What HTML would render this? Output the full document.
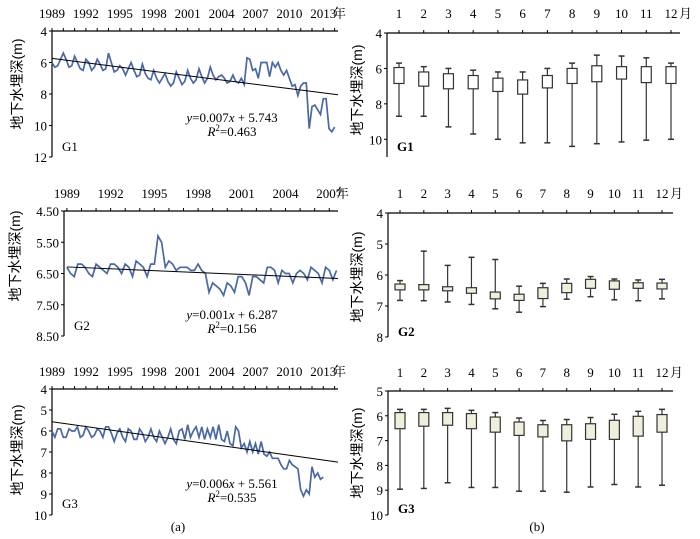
<!DOCTYPE html>
<html><head><meta charset="utf-8"><style>
body{margin:0;background:#fff}
svg{display:block;font-family:"Liberation Serif","Noto Serif CJK SC",serif}
</style></head><body>
<svg id="fig" width="700" height="539" viewBox="0 0 700 539" xmlns="http://www.w3.org/2000/svg"></svg>
<script>
// ---------- data ----------
const g1Start = 1989;
const g1Depth = [6.0,6.3,6.2,5.8, 5.4,5.8,6.3,6.2, 5.6,6.0,6.4,6.5, 5.8,6.0,6.5,6.3, 5.8,6.1,6.5,6.4,
  5.4,6.0,6.6,6.5, 6.2,6.4,6.8,6.4, 6.0,6.5,6.9,6.8, 6.1,6.7,7.0,7.1, 6.5,7.0,7.3,7.0,
  6.7,7.2,7.5,7.3, 6.6,7.0,7.4,7.2, 6.5,7.0,7.3,7.1, 6.4,6.9,7.3,7.0, 6.3,6.8,7.1,6.9,
  6.8,7.0,7.3,7.2, 6.8,7.2,7.3,7.0, 7.4,5.7,5.8,6.5, 6.4,7.0,6.0,6.0, 6.0,6.9,6.0,6.3,
  6.0,6.5,6.8,6.5, 7.0,7.5,7.4,8.1, 7.5,7.3,7.3,10.2, 8.8,8.7,9.0,9.3, 8.3,8.3,10.2,10.4, 10.1];
const g1Trend = [5.74, 8.05];
const g2Start = 1989;
const g2Depth = [6.3,6.5,6.6,6.2, 6.2,6.3,6.5,6.6, 6.2,6.3,6.4,6.5, 6.2,6.2,6.3,6.5, 6.2,6.3,6.6,6.1,
  6.2,6.3,6.6,6.2, 6.2,5.3,5.5,6.3, 6.1,6.2,6.4,6.3, 6.3,6.3,6.4,6.4, 6.2,6.4,6.5,7.1,
  6.8,6.9,7.0,7.2, 6.8,6.9,7.1,6.6, 6.6,6.8,7.2,6.6, 6.6,6.7,6.8,6.3, 6.3,6.4,6.8,6.4,
  6.5,6.5,6.8,6.5, 6.4,6.5,6.7,6.3, 6.4,6.5,6.8,6.3, 6.4,6.7,6.4];
const g2Trend = [6.29, 6.66];
const g3Start = 1989;
const g3Depth = [6.0,6.3,5.9,5.9, 6.3,6.3,5.9,6.0, 6.0,5.8,6.3,6.2, 5.8,6.0,6.3,6.2, 5.9,6.0,6.3,5.8,
  5.8,6.1,6.5,6.1, 5.9,6.3,6.5,5.9, 6.0,6.4,6.4,5.9, 6.1,6.5,6.3,5.9, 6.3,6.5,6.0,6.3,
  6.6,6.3,5.9,6.4, 6.6,6.0,5.9,6.4, 5.7,6.3,6.0,5.8, 6.3,5.8,6.4,5.9, 6.3,5.8,6.4,5.7,
  6.4,6.5,6.0,6.6, 6.7,5.8,6.0,6.8, 6.6,7.0,6.5,7.0, 6.6,7.1,6.5,7.1, 7.2,7.0,7.3,7.3,
  7.3,7.6,7.8,7.8, 7.4,7.6,7.7,7.8, 8.8,9.1,8.8,9.0, 7.7,8.2,8.0,8.3, 8.2];
const g3Trend = [5.56, 7.48];
const months = ["1","2","3","4","5","6","7","8","9","10","11","12"];
const b1WhiskTop = [5.7,5.9,6.0,6.1,6.2,6.2,6.0,5.7,5.25,5.3,5.4,5.7];
const b1Q1 = [5.95,6.2,6.3,6.4,6.55,6.65,6.4,6.0,5.85,5.9,5.9,5.9];
const b1Q3 = [6.85,7.0,7.15,7.15,7.3,7.45,7.1,6.85,6.75,6.6,6.8,6.85];
const b1WhiskBot = [8.7,8.7,9.3,9.7,10.0,10.2,10.2,10.4,10.25,10.15,10.05,10.0];
const b2WhiskTop = [6.18,5.23,5.69,5.43,5.5,6.36,6.27,6.13,6.05,6.13,6.16,6.14];
const b2Q1 = [6.29,6.31,6.38,6.41,6.55,6.62,6.41,6.27,6.14,6.19,6.25,6.26];
const b2Q3 = [6.48,6.48,6.51,6.59,6.77,6.82,6.76,6.57,6.43,6.46,6.43,6.45];
const b2WhiskBot = [6.82,6.83,6.87,6.95,7.09,7.2,7.02,6.78,6.7,6.8,6.83,6.77];
const b3WhiskTop = [5.74,5.74,5.70,5.78,5.87,6.09,6.19,6.15,6.07,5.94,5.82,5.74];
const b3Q1 = [5.87,5.87,5.87,5.91,6.05,6.25,6.36,6.36,6.32,6.18,6.02,5.95];
const b3Q3 = [6.52,6.42,6.38,6.52,6.66,6.79,6.85,7.01,6.95,6.95,6.82,6.66];
const b3WhiskBot = [8.96,8.93,8.7,8.89,8.89,9.04,9.04,9.08,8.87,8.77,8.87,8.8];

const NS = "http://www.w3.org/2000/svg";
const svg = document.getElementById("fig");
function mk(tag, attrs, parent, text){
  const e = document.createElementNS(NS, tag);
  for (const k in attrs) e.setAttribute(k, attrs[k]);
  if (text !== undefined) e.textContent = text;
  (parent || svg).appendChild(e);
  return e;
}
function lin(d0,d1,r0,r1){ return v => r0 + (v-d0)/(d1-d0)*(r1-r0); }

function yAxis(g, x, y, ticks, fmt, top, bottom){
  mk("line",{x1:x,y1:top,x2:x,y2:bottom,stroke:"#000","stroke-width":1.2},g);
  ticks.forEach(t=>{
    const yy=y(t);
    mk("line",{x1:x-3,y1:yy,x2:x,y2:yy,stroke:"#000"},g);
    const lb = mk("text",{x:x-5,y:yy+5,"text-anchor":"end","font-size":13},g,fmt(t));
    
    
  });
}
function yTitle(g, x, cy){
  const t = mk("text",{x:x,y:cy,"text-anchor":"middle","font-size":14,transform:`rotate(-90 ${x} ${cy})`,"font-family":"Liberation Sans, Noto Sans CJK SC, sans-serif"},g,"地下水埋深(m)");
  
  
}

function linePanel(name, start, data, trend, x0, x1, yr0, yr1, labelYears, yTop, yBot, ySpan, yTicks, fmt, axTop, axBot, labelY, unitX, eq, eqY, r2, r2Y, gName, gY, titleX, titleY){
  const g = mk("g",{},svg);
  
  
  const x = lin(yr0, yr1, x0, x1);
  const y = lin(ySpan[0], ySpan[1], axTop, axBot);
  mk("line",{x1:x0,y1:axTop,x2:x1,y2:axTop,stroke:"#000","stroke-width":1.2},g);
  for(let yr=Math.ceil(yr0); yr<=yr1; yr++){
    mk("line",{x1:x(yr),y1:axTop-3,x2:x(yr),y2:axTop,stroke:"#000"},g);
  }
  labelYears.forEach(yr=>{
    const t = mk("text",{x:x(yr),y:labelY,"text-anchor":"middle","font-size":13},g,String(yr));
    
    
  });
  const u = mk("text",{x:unitX,y:labelY,"font-size":13,"font-family":"Liberation Serif, Noto Serif CJK SC, serif"},g,"年");
  
  
  yAxis(g, x0, y, yTicks, fmt, axTop, axBot);
  const pts = data.map((v,i)=>`${x(start+i*0.25).toFixed(1)},${y(v).toFixed(1)}`).join(" ");
  const pl = mk("polyline",{points:pts,fill:"none",stroke:"#4a67a6","stroke-width":1.7},g);
  
  
  const tl = mk("line",{x1:x(start),y1:y(trend[0]),x2:x1,y2:y(trend[1]),stroke:"#000","stroke-width":1},g);
  
  
  const e = mk("text",{x:232,y:eqY,"text-anchor":"middle","font-size":13},g);
  e.innerHTML = eq;
  
  
  const r = mk("text",{x:232,y:r2Y,"text-anchor":"middle","font-size":13},g);
  r.innerHTML = r2;
  
  
  const gl = mk("text",{x:x0+10,y:gY,"font-size":13},g,gName);
  
  
  yTitle(g, titleX, titleY);
}

function boxPanel(name, wt, q1, q3, wb, x0, x1, m1x, m12x, axTop, axBot, span, ticks, labelY, gName, gY, titleY){
  const g = mk("g",{},svg);
  
  
  const x = lin(1, 12, m1x, m12x);
  const y = lin(span[0], span[1], axTop, axBot);
  mk("line",{x1:x0,y1:axTop,x2:x1,y2:axTop,stroke:"#000","stroke-width":1.2},g);
  months.forEach((m,i)=>{
    const xx = x(i+1);
    mk("line",{x1:xx,y1:axTop-3,x2:xx,y2:axTop,stroke:"#000"},g);
    const t = mk("text",{x:xx,y:labelY,"text-anchor":"middle","font-size":13},g,m);
    
    
  });
  const u = mk("text",{x:x(12)+8,y:labelY,"font-size":13},g,"月");
  
  
  yAxis(g, x0, y, ticks, v=>String(v), axTop, axBot);
  const fill = name==="box-panel-g1" ? "#fff" : "#efefdc";
  months.forEach((m,i)=>{
    const xx = x(i+1);
    const w = mk("line",{x1:xx,y1:y(wt[i]),x2:xx,y2:y(wb[i]),stroke:"#333","stroke-width":1.2},g);
    
    
    mk("line",{x1:xx-3,y1:y(wt[i]),x2:xx+3,y2:y(wt[i]),stroke:"#333","stroke-width":1.5},g);
    mk("line",{x1:xx-3,y1:y(wb[i]),x2:xx+3,y2:y(wb[i]),stroke:"#333","stroke-width":1.5},g);
    const b = mk("rect",{x:xx-5,y:y(q1[i]),width:10,height:y(q3[i])-y(q1[i]),fill:fill,stroke:"#333","stroke-width":1.2},g);
    
    
  });
  const gl = mk("text",{x:x0+10,y:gY,"font-size":13,"font-weight":"bold"},g,gName);
  
  
  yTitle(g, 362, titleY);
}

const yrsA = [1989,1992,1995,1998,2001,2004,2007,2010,2013];
linePanel("line-panel-g1", g1Start, g1Depth, g1Trend, 52, 338, 1989, 2014.3, yrsA, 0,0,[4,12],[4,6,8,10,12],v=>String(v),31,157,18,333,
  '<tspan font-style="italic">y</tspan>=0.007<tspan font-style="italic">x</tspan> + 5.743',122,'<tspan font-style="italic">R</tspan><tspan font-size="9" dy="-5">2</tspan><tspan dy="5">=0.463</tspan>',136,"G1",151,22,84);
linePanel("line-panel-g2", g2Start, g2Depth, g2Trend, 64, 338, 1988.8, 2007.6, [1989,1992,1995,1998,2001,2004,2007], 0,0,[4.5,8.5],[4.5,5.5,6.5,7.5,8.5],v=>v.toFixed(2),211,336,198,336,
  '<tspan font-style="italic">y</tspan>=0.001<tspan font-style="italic">x</tspan> + 6.287',319,'<tspan font-style="italic">R</tspan><tspan font-size="9" dy="-5">2</tspan><tspan dy="5">=0.156</tspan>',333,"G2",330,20,256);
linePanel("line-panel-g3", g3Start, g3Depth, g3Trend, 52, 338, 1989, 2014.3, yrsA, 0,0,[4,10],[4,5,6,7,8,9,10],v=>String(v),389,515,376,333,
  '<tspan font-style="italic">y</tspan>=0.006<tspan font-style="italic">x</tspan> + 5.561',488,'<tspan font-style="italic">R</tspan><tspan font-size="9" dy="-5">2</tspan><tspan dy="5">=0.535</tspan>',502,"G3",508,22,450);

boxPanel("box-panel-g1", b1WhiskTop,b1Q1,b1Q3,b1WhiskBot, 387, 680, 399, 671, 33, 157, [4,11.0],[4,6,8,10],18,"G1",151,90);
boxPanel("box-panel-g2", b2WhiskTop,b2Q1,b2Q3,b2WhiskBot, 388, 673, 400, 662, 213, 337, [4,8],[4,5,6,7,8],198,"G2",336,277);
boxPanel("box-panel-g3", b3WhiskTop,b3Q1,b3Q3,b3WhiskBot, 388, 673, 400, 662, 391, 515, [5,10],[5,6,7,8,9,10],377,"G3",513,453);

const la = mk("text",{x:178,y:531,"text-anchor":"middle","font-size":13},svg,"(a)");


const lb = mk("text",{x:537,y:531,"text-anchor":"middle","font-size":13},svg,"(b)");


</script>
</body></html>
